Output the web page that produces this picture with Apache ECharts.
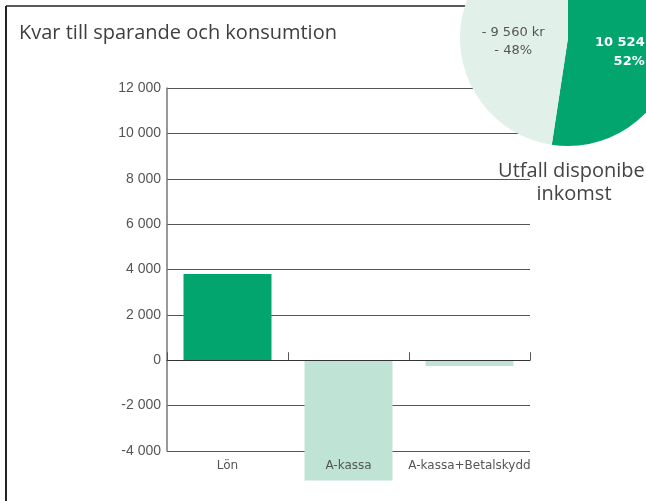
<!DOCTYPE html>
<html>
<head>
<meta charset="utf-8">
<script src="https://cdn.jsdelivr.net/npm/echarts@6/dist/echarts.min.js"></script>
<style>html,body{margin:0;padding:0;background:#fff}#c{width:646px;height:501px}</style>
</head>
<body>
<div id="c"></div>
<script>
var categories = ['Lön', 'A-kassa', 'A-kassa+Betalskydd'];
var values = [3800, -5300, -250];
var pieNames = ['Kvar', 'Minskning'];
var pieValues = [10524, 9560];
var pieLabels = ['{a|10 524}\n{b|52%}', '- 9 560 kr\n- 48%'];

function fmt(v){
  var s = Math.abs(v).toString().replace(/\B(?=(\d{3})+(?!\d))/g, ' ');
  return (v < 0 ? '-' : '') + s;
}

var chart = echarts.init(document.getElementById('c'));
chart.setOption({
  animation: false,
  title: {
    text: 'Kvar till sparande och konsumtion',
    left: 14, top: 18,
    textStyle: { fontFamily: 'Open Sans', fontSize: 20, fontWeight: 'normal', color: '#3f3f3f' }
  },
  grid: { left: 167, right: 116, top: 88, bottom: 50 },
  xAxis: [
    {
      type: 'category', data: categories, position: 'bottom', z: 10,
      axisLine: { show: false, onZero: false }, axisTick: { show: false },
      axisLabel: { interval: 0, margin: 9, fontFamily: 'DejaVu Sans', fontSize: 12, color: '#555' }
    },
    {
      type: 'category', data: categories, position: 'bottom', z: 5,
      axisLine: { show: true, onZero: true, lineStyle: { color: '#333', width: 1 } },
      axisTick: { show: true, interval: 0, inside: true, length: 8, lineStyle: { color: '#555' } },
      axisLabel: { show: false, interval: 0 }
    }
  ],
  yAxis: {
    type: 'value', min: -4000, max: 12000, interval: 2000,
    axisLine: { show: true, lineStyle: { color: '#777', width: 1.5 } },
    axisTick: { show: false },
    splitLine: { lineStyle: { color: '#555', width: 1 } },
    axisLabel: { formatter: fmt, fontFamily: 'Liberation Sans', fontSize: 14, color: '#555', margin: 6 }
  },
  series: [
    {
      type: 'bar', xAxisIndex: 0, clip: false, barWidth: 88, z: 2,
      data: values.map(function(v, i){
        return { value: v, itemStyle: { color: i === 0 ? '#02a56d' : '#bfe3d5' } };
      })
    },
    {
      type: 'pie', center: [568, 38], radius: 108, startAngle: 90, clockwise: true,
      z: 5,
      label: { show: true, position: 'inside', lineHeight: 18 },
      labelLine: { show: false },
      data: [
        { name: pieNames[0], value: pieValues[0], itemStyle: { color: '#02a56d' },
          label: { formatter: pieLabels[0], offset: [-5, 10],
                   rich: {
                     a: { color: '#fff', fontWeight: 'bold', fontSize: 13, fontFamily: 'DejaVu Sans', lineHeight: 19, align: 'right' },
                     b: { color: '#fff', fontWeight: 'bold', fontSize: 13, fontFamily: 'DejaVu Sans', lineHeight: 19, align: 'right' }
                   } } },
        { name: pieNames[1], value: pieValues[1], itemStyle: { color: '#e2f0ea' },
          label: { formatter: pieLabels[1], color: '#555', fontSize: 13, fontFamily: 'DejaVu Sans',
                   offset: [2, 8] } }
      ]
    }
  ],
  graphic: [
    { type: 'line', z: -10, shape: { x1: 6, y1: 6, x2: 6, y2: 501 }, style: { stroke: '#222', lineWidth: 2 } },
    { type: 'line', z: -10, shape: { x1: 6, y1: 6, x2: 560, y2: 6 }, style: { stroke: '#222', lineWidth: 1.5 } },
    { type: 'text', z: 100, x: 574, y: 160,
      style: { text: 'Utfall disponibel\ninkomst', align: 'center', fill: '#444',
               font: '20px "Open Sans"', lineHeight: 23 } }
  ]
});
</script>
</body>
</html>
